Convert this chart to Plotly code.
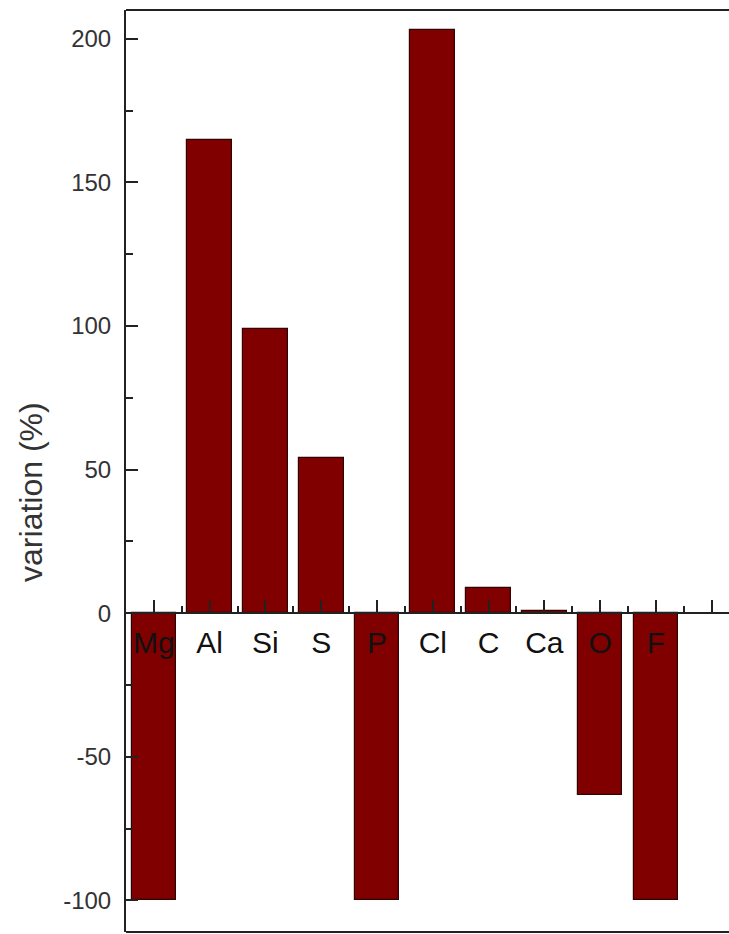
import plotly.graph_objects as go

# Relative change per element (%)
elements = ["Mg", "Al", "Si", "S", "P", "Cl", "C", "Ca", "O", "F"]
variation = [-100, 164.6, 98.9, 54, -100, 203, 8.9, 0.9, -63.3, -100]

# Axis settings
y_min, y_max = -111, 210
y_ticks = [-100, -50, 0, 50, 100, 150, 200]
y_tick_text = ["-100", "-50", "0", "50", "100", "150", "200"]
x_positions = list(range(1, len(elements) + 1))
x_ticks = list(range(1, len(elements) + 2))
x_tick_text = elements + [""]

BAR_COLOR = "#800000"
EDGE_COLOR = "#300404"
AXIS_COLOR = "#222222"
FONT = "Liberation Sans, Arial, sans-serif"

fig = go.Figure(
    go.Bar(
        x=x_positions,
        y=variation,
        width=0.8,
        marker=dict(color=BAR_COLOR, line=dict(color=EDGE_COLOR, width=1.2)),
        showlegend=False,
    )
)

zero_pos = (0 - y_min) / (y_max - y_min)

fig.update_layout(
    width=729,
    height=934,
    margin=dict(l=126, r=0, t=10, b=2),
    paper_bgcolor="white",
    plot_bgcolor="white",
    font=dict(family=FONT, color=AXIS_COLOR, size=24),
    bargap=0,
    xaxis=dict(
        range=[0.5, 11.31],
        anchor="free",
        position=zero_pos,
        showline=True,
        linecolor=AXIS_COLOR,
        linewidth=2,
        showgrid=False,
        zeroline=False,
        tickmode="array",
        tickvals=x_ticks,
        ticktext=x_tick_text,
        ticks="inside",
        ticklen=12,
        tickwidth=2,
        tickcolor=AXIS_COLOR,
        ticklabelstandoff=3,
        tickfont=dict(size=30, color="#111111"),
        minor=dict(
            tickmode="array",
            tickvals=[i + 0.5 for i in range(1, 11)],
            ticks="inside",
            ticklen=6,
            tickwidth=2,
            tickcolor=AXIS_COLOR,
            showgrid=False,
        ),
    ),
    yaxis=dict(
        range=[y_min, y_max],
        showline=True,
        linecolor=AXIS_COLOR,
        linewidth=2,
        showgrid=False,
        zeroline=False,
        tickmode="array",
        tickvals=y_ticks,
        ticktext=y_tick_text,
        ticks="inside",
        ticklen=12,
        tickwidth=2,
        tickcolor=AXIS_COLOR,
        ticklabelstandoff=8,
        tickfont=dict(size=24, color="#333333"),
        minor=dict(
            tickmode="array",
            tickvals=[-75, -25, 25, 75, 125, 175],
            ticks="inside",
            ticklen=7,
            tickwidth=2,
            tickcolor=AXIS_COLOR,
            showgrid=False,
        ),
    ),
    shapes=[
        dict(type="line", xref="paper", yref="paper", x0=0, x1=1, y0=1, y1=1,
             line=dict(color=AXIS_COLOR, width=2)),
        dict(type="line", xref="paper", yref="paper", x0=0, x1=1, y0=0, y1=0,
             line=dict(color=AXIS_COLOR, width=2)),
    ],
    annotations=[
        dict(
            text="variation (%)",
            xref="paper",
            yref="paper",
            x=-0.158,
            y=0.477,
            xanchor="center",
            yanchor="middle",
            textangle=-90,
            showarrow=False,
            font=dict(size=32, color="#333333", family=FONT),
        )
    ],
)

fig.write_html("out.html")
